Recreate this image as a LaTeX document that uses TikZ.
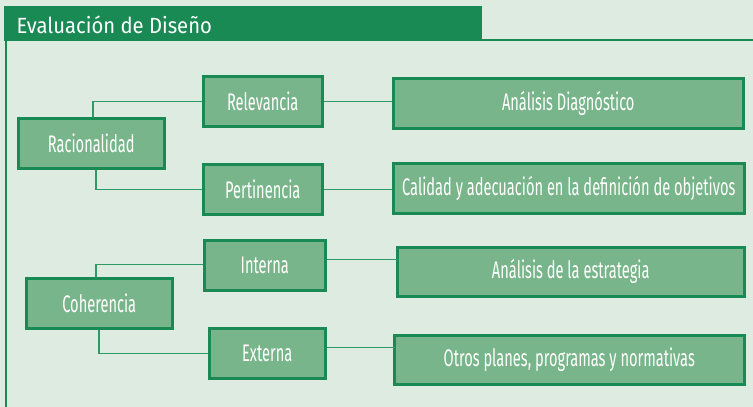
\documentclass[tikz,border=0pt]{standalone}
\usepackage{fontspec}
\usepackage{tikz}
\usetikzlibrary{positioning}
\newfontfamily\titlefont[FakeStretch=0.92]{Fira Sans}
\newfontfamily\boxfont[FakeStretch=0.61]{Fira Sans}
\definecolor{bgpale}{HTML}{DEEBE0}
\definecolor{darkgreen}{HTML}{1A8A55}
\definecolor{boxgreen}{HTML}{78B58A}
\definecolor{linegreen}{HTML}{2E9A65}

\begin{document}
\begin{tikzpicture}[
    x=1pt, y=-1pt,
    crit/.style = {draw=darkgreen, line width=2.5pt, fill=boxgreen,
                text=white, font=\boxfont\fontsize{24}{26}\selectfont,
                inner sep=0pt, anchor=north west},
    link/.style = {draw=linegreen, line width=1.3pt}
                    ]
\useasboundingbox (0,0) rectangle (753,407);
\fill[bgpale] (0,0) rectangle (753,407);

% cabecera
\fill[darkgreen] (4,6) rectangle (482,41);
\draw[darkgreen, line width=2pt] (482,40) -- (753,40);
\draw[darkgreen, line width=2.5pt] (6,41) -- (6,407);
\node (title) [anchor=base west, text=white,
    font=\titlefont\fontsize{22}{24}\selectfont] at (13,33) {Evaluación de Diseño};

% criterios
\node (racio) [crit, minimum width=146, minimum height=50] at (17,117) {Racionalidad};
\node (relev) [crit, minimum width=119, minimum height=50] at (202,75) {Relevancia};
\node (perti) [crit, minimum width=119, minimum height=50] at (202,163) {Pertinencia};
\node (coher) [crit, minimum width=146, minimum height=50] at (25,277) {Coherencia};
\node (inter) [crit, minimum width=121, minimum height=50] at (203,239) {Interna};
\node (exter) [crit, minimum width=116, minimum height=50] at (208,327) {Externa};

% aspectos
\node (diagn) [crit, minimum width=350, minimum height=50] at (392,77) {Análisis Diagnóstico};
\node (objet) [crit, minimum width=351, minimum height=50] at (392,162) {Calidad y adecuación en la definición de objetivos};
\node (estra) [crit, minimum width=347, minimum height=49] at (396,246) {Análisis de la estrategia};
\node (otros) [crit, minimum width=350, minimum height=49] at (393,334) {Otros planes, programas y normativas};

\draw[link] (racio.north west) ++(76,0) |- (relev.west);
\draw[link] (racio.south west) ++(79,0) |- (perti.west);
\draw[link] (coher.north west) ++(71,0) |- ([yshift=1]inter.west);
\draw[link] (coher.south west) ++(74,0) |- (exter.west);

\draw[link] (relev.east) -- (relev.east -| diagn.west);
\draw[link] (perti.east) -- (perti.east -| objet.west);
\draw[link] (inter.east) ++(0,-6) -- ++(72,0);
\draw[link] (exter.east) ++(0,-6) -- ++(69,0);

%\node[below=of racio] {};
\end{tikzpicture}
\end{document}
